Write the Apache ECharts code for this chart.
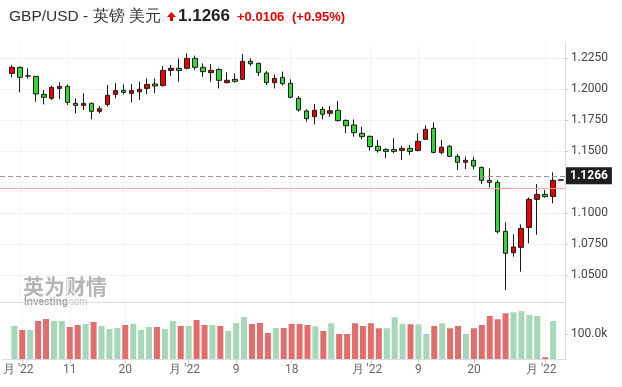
<!DOCTYPE html>
<html><head><meta charset="utf-8">
<script src="https://cdn.jsdelivr.net/npm/echarts@6/dist/echarts.min.js"></script>
<style>html,body{margin:0;padding:0;background:#fff}#c{width:622px;height:387px}</style>
</head><body><div id="c"></div>
<script>
// ---- data ----
const dates = ['06-30','07-01','07-04','07-05','07-06','07-07','07-08','07-11','07-12','07-13','07-14','07-15','07-18','07-19','07-20','07-21','07-22','07-25','07-26','07-27','07-28','07-29','08-01','08-02','08-03','08-04','08-05','08-08','08-09','08-10','08-11','08-12','08-15','08-16','08-17','08-18','08-19','08-22','08-23','08-24','08-25','08-26','08-29','08-30','08-31','09-01','09-02','09-05','09-06','09-07','09-08','09-09','09-12','09-13','09-14','09-15','09-16','09-19','09-20','09-21','09-22','09-23','09-26','09-27','09-28','09-29','09-30','10-03','10-04','10-05'];
const opens  = [1.2126,1.2175,1.2106,1.2102,1.1957,1.1925,1.2005,1.2021,1.1884,1.1868,1.1884,1.1820,1.1876,1.1957,1.1989,1.1965,1.1978,1.2005,1.2040,1.2029,1.2150,1.2167,1.2167,1.2247,1.2175,1.2132,1.2158,1.2051,1.2078,1.2078,1.2223,1.2207,1.2129,1.2051,1.2094,1.2046,1.1925,1.1823,1.1777,1.1836,1.1804,1.1828,1.1747,1.1710,1.1643,1.1618,1.1538,1.1513,1.1513,1.1505,1.1521,1.1505,1.1594,1.1683,1.1487,1.1538,1.1457,1.1409,1.1425,1.1368,1.1263,1.1247,1.0852,1.0680,1.0723,1.0884,1.1110,1.1150,1.1134,1.1268];
const closes = [1.2175,1.2094,1.2104,1.1960,1.1933,1.2013,1.2021,1.1892,1.1868,1.1884,1.1820,1.1841,1.1949,1.1987,1.1973,1.1987,1.1997,1.2037,1.2024,1.2150,1.2167,1.2150,1.2247,1.2175,1.2140,1.2150,1.2070,1.2070,1.2062,1.2223,1.2204,1.2134,1.2051,1.2086,1.2043,1.1933,1.1831,1.1761,1.1828,1.1796,1.1825,1.1745,1.1704,1.1648,1.1616,1.1535,1.1503,1.1497,1.1497,1.1521,1.1497,1.1578,1.1675,1.1489,1.1530,1.1457,1.1409,1.1425,1.1379,1.1263,1.1247,1.0849,1.0675,1.0726,1.0876,1.1110,1.1150,1.1132,1.1263,1.1264];
const lows   = [1.2094,1.1973,1.2086,1.1898,1.1876,1.1911,1.1917,1.1871,1.1804,1.1831,1.1755,1.1804,1.1858,1.1925,1.1957,1.1892,1.1911,1.1957,1.1965,1.2019,1.2105,1.2059,1.2158,1.2153,1.2099,1.2059,1.2005,1.2046,1.2051,1.2073,1.2185,1.2105,1.2032,1.2005,1.2027,1.1925,1.1817,1.1737,1.1715,1.1755,1.1777,1.1737,1.1643,1.1616,1.1594,1.1503,1.1487,1.1441,1.1481,1.1427,1.1468,1.1495,1.1589,1.1481,1.1473,1.1454,1.1347,1.1355,1.1352,1.1234,1.1207,1.0836,1.0379,1.0648,1.0527,1.0755,1.0824,1.1124,1.1078,1.1262];
const highs  = [1.2194,1.2180,1.2167,1.2105,1.1992,1.2027,1.2054,1.2037,1.1925,1.1965,1.1892,1.1863,1.2032,1.2046,1.2037,1.2040,1.2059,1.2086,1.2086,1.2185,1.2194,1.2247,1.2287,1.2269,1.2207,1.2201,1.2167,1.2134,1.2126,1.2282,1.2247,1.2212,1.2145,1.2118,1.2140,1.2078,1.1943,1.1836,1.1879,1.1858,1.1863,1.1903,1.1755,1.1755,1.1696,1.1624,1.1589,1.1521,1.1602,1.1540,1.1548,1.1643,1.1707,1.1731,1.1589,1.1548,1.1476,1.1454,1.1454,1.1374,1.1360,1.1266,1.0925,1.0828,1.0908,1.1126,1.1234,1.1185,1.1328,1.1270];
// volume in thousands; volumeUp: 1 = red bar, 0 = green bar
const volumes  = [132,116,116,152,160,152,152,128,136,140,148,132,120,124,136,140,116,128,128,120,152,132,132,156,136,136,132,112,144,168,140,144,104,124,124,140,140,136,131,112,143,100,100,143,132,143,123,123,167,140,139,139,100,132,143,123,132,100,123,136,172,159,183,187,191,176,172,7,152,'-'];
const volumeUp = [0,1,0,1,1,0,0,1,1,0,1,0,0,0,1,0,0,0,1,0,0,1,0,1,1,0,1,0,0,0,1,1,1,0,1,1,1,1,0,1,0,1,1,1,1,1,1,0,0,0,1,0,0,1,0,1,1,0,1,1,1,1,1,0,0,0,0,1,0,0];
const tickLabels = {'07-01':"月 '22",'07-11':'11','07-20':'20','08-01':"月 '22",'08-09':'9','08-18':'18','09-01':"月 '22",'09-09':'9','09-20':'20','10-03':"月 '22"};
const priceTicks = [1.05,1.075,1.1,1.125,1.15,1.175,1.2,1.225];
const priceLabels = [1.05,1.075,1.1,1.15,1.175,1.2,1.225];
const volumeTicks = [100];
const lastPrice = 1.1266, prevClose = 1.1160;
const titleName = 'GBP/USD - 英镑 美元', titlePrice = '1.1266', titleChange = '+0.0106', titlePct = '(+0.95%)';

// ---- build ----
const cats = [''].concat(dates);
const candleData = [['-','-','-','-']].concat(dates.map((d,i)=>[opens[i],closes[i],lows[i],highs[i]]));
const RED='#ee0000', GREEN='#33d633';
const volData = [{value:'-'}].concat(volumes.map((v,i)=>({value:v,itemStyle:{color: volumeUp[i] ? '#e36d6d' : '#a6d7b8'}})));
const showTick = (idx, val) => !!tickLabels[val];
const grid = '#f2f2f2', axisC = '#dcdcdc';

const chart = echarts.init(document.getElementById('c'), null, {renderer:'canvas'});
chart.setOption({
  animation:false,
  textStyle:{fontFamily:'Roboto, Arial, sans-serif'},
  grid:[
    {left:0, top:43, width:565, height:259},
    {left:0, top:302, width:565, height:57}
  ],
  xAxis:[
    {type:'category', gridIndex:0, data:cats, boundaryGap:true,
     axisLine:{show:true, lineStyle:{color:axisC}}, axisTick:{show:false}, axisLabel:{show:false},
     splitLine:{show:true, interval:showTick, alignWithLabel:true, lineStyle:{color:grid}}},
    {type:'category', gridIndex:1, data:cats, boundaryGap:true,
     axisLine:{show:true, lineStyle:{color:axisC}},
     axisTick:{show:true, interval:showTick, alignWithLabel:true, length:4, lineStyle:{color:'#ccc'}},
     axisLabel:{show:true, interval:showTick, margin:5, color:'#666', fontSize:12,
       formatter:v=>{const t=tickLabels[v]; if(!t) return ''; return t.indexOf('月')>=0 ? '{m|'+t+'}' : t;},
       rich:{m:{color:'#666', fontSize:12, padding:[0,8,0,0]}}},
     splitLine:{show:true, interval:showTick, alignWithLabel:true, lineStyle:{color:grid}}}
  ],
  yAxis:[
    {type:'value', gridIndex:0, position:'right', min:1.02823, max:1.2371,
     axisLine:{show:true, lineStyle:{color:axisC}},
     axisTick:{show:true, customValues:priceTicks, length:3, lineStyle:{color:'#ccc'}},
     axisLabel:{show:true, customValues:priceLabels, margin:6, color:'#444', fontSize:12, formatter:v=>v.toFixed(4)},
     splitLine:{show:true, lineStyle:{color:grid}}},
    {type:'value', gridIndex:1, position:'right', min:0, max:228,
     axisLine:{show:true, lineStyle:{color:axisC}},
     axisTick:{show:true, customValues:volumeTicks, length:3, lineStyle:{color:'#ccc'}},
     axisLabel:{show:true, customValues:volumeTicks, margin:6, color:'#444', fontSize:12, formatter:v=>v.toFixed(1)+'k'},
     splitLine:{show:false}}
  ],
  series:[
    {type:'candlestick', xAxisIndex:0, yAxisIndex:0, data:candleData, barWidth:5,
     itemStyle:{color:RED, color0:GREEN, borderColor:'#1a1a1a', borderColor0:'#1a1a1a', borderWidth:1},
     markLine:{silent:true, symbol:['none','none'], animation:false,
       data:[
         {yAxis:prevClose, lineStyle:{color:'#f5a3a3', type:'solid', width:1}, label:{show:false}},
         {yAxis:lastPrice, lineStyle:{color:'#999', type:[5,3], width:1},
          label:{show:true, position:'end', distance:1, formatter:()=>lastPrice.toFixed(4), color:'#fff', backgroundColor:'#1e1e1e', padding:[3,4,2,4], fontSize:12, fontWeight:'bold', fontFamily:'Roboto, Arial, sans-serif'}}
       ]}},
    {type:'bar', xAxisIndex:1, yAxisIndex:1, data:volData, barWidth:6}
  ],
  graphic:[
    {type:'text', left:9, top:9, style:{text:titleName, fill:'#333', font:'15.5px "Liberation Sans", Arial, sans-serif'}},
    {type:'polygon', shape:{points:[[167,17],[171.5,12],[176,17],[173,17],[173,21],[170,21],[170,17]]}, style:{fill:RED}},
    {type:'text', left:178, top:8, style:{text:titlePrice, fill:'#222', font:'bold 17px "Liberation Sans", Arial, sans-serif'}},
    {type:'text', left:237, top:11, style:{text:titleChange, fill:RED, font:'bold 13px "Liberation Sans", Arial, sans-serif'}},
    {type:'text', left:292, top:11, style:{text:titlePct, fill:RED, font:'bold 13px "Liberation Sans", Arial, sans-serif'}},
    {type:'text', left:23, top:276, z:-1, style:{text:'英为财情', fill:'rgba(120,120,120,0.55)', font:'bold 21px "Noto Sans CJK SC", sans-serif'}},
    {type:'text', left:24, top:297, z:-1, style:{text:'Investing', fill:'rgba(90,90,90,0.6)', font:'bold 10px "Liberation Sans", Arial, sans-serif'}},
    {type:'text', left:66, top:297, z:-1, style:{text:'.com', fill:'rgba(130,130,130,0.5)', font:'10px "Liberation Sans", Arial, sans-serif'}}
  ]
});
</script></body></html>
